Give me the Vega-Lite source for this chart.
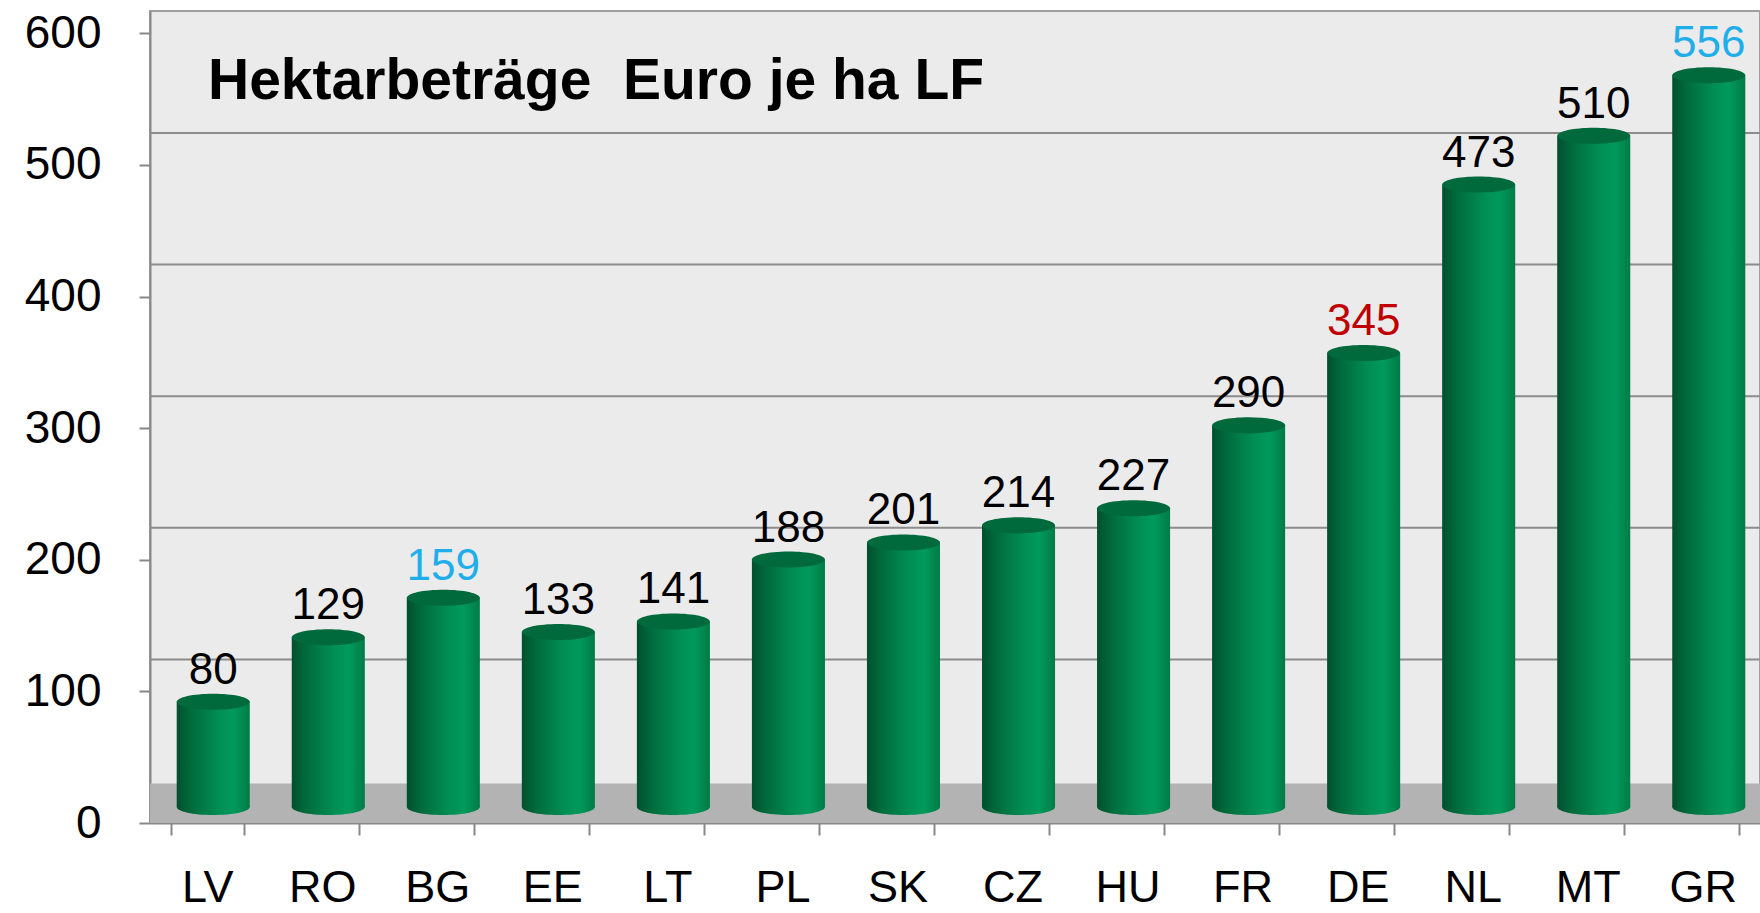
{
  "$schema": "https://vega.github.io/schema/vega-lite/v6.json",
  "width": 1610,
  "height": 812,
  "autosize": {"type": "none"},
  "padding": {"left": 150, "top": 11, "right": 0, "bottom": 90},
  "background": "#FFFFFF",
  "config": {
    "view": {"fill": "#EBEBEB", "stroke": "#A0A0A0", "strokeWidth": 2},
    "font": "Liberation Sans"
  },
  "title": {
    "text": "Hektarbeträge\u00a0 Euro je ha LF",
    "anchor": "start",
    "frame": "group",
    "orient": "top",
    "offset": -146,
    "dx": 58,
    "baseline": "alphabetic",
    "fontSize": 57,
    "font": "Liberation Sans",
    "fontWeight": "bold",
    "color": "#000000"
  },
  "data": {
    "values": [
      {"land": "LV", "wert": 80},
      {"land": "RO", "wert": 129},
      {"land": "BG", "wert": 159},
      {"land": "EE", "wert": 133},
      {"land": "LT", "wert": 141},
      {"land": "PL", "wert": 188},
      {"land": "SK", "wert": 201},
      {"land": "CZ", "wert": 214},
      {"land": "HU", "wert": 227},
      {"land": "FR", "wert": 290},
      {"land": "DE", "wert": 345},
      {"land": "NL", "wert": 473},
      {"land": "MT", "wert": 510},
      {"land": "GR", "wert": 556}
    ]
  },
  "encoding": {
    "x": {
      "field": "land",
      "type": "nominal",
      "sort": null,
      "scale": {"paddingInner": 0.365, "paddingOuter": 0.18},
      "axis": {
        "title": null,
        "labelAngle": 0,
        "labelFontSize": 45,
        "labelColor": "#000000",
        "labelFont": "Liberation Sans",
        "labelPadding": 30,
        "tickSize": 12,
        "tickBand": "extent",
        "tickColor": "#888888",
        "tickWidth": 2,
        "domainColor": "#888888",
        "domainWidth": 2,
        "grid": false
      }
    }
  },
  "layer": [
    {
      "data": {"values": [{}]},
      "mark": {"type": "rect", "color": "#B3B3B3"},
      "encoding": {
        "x": null,
        "y": {"datum": 0, "type": "quantitative"},
        "y2": {"datum": 30}
      }
    },
    {
      "data": {"values": [{"g": 100}, {"g": 200}, {"g": 300}, {"g": 400}, {"g": 500}]},
      "mark": {"type": "rule", "color": "#8C8C8C", "strokeWidth": 2, "yOffset": -32},
      "encoding": {
        "x": null,
        "y": {"field": "g", "type": "quantitative"}
      }
    },
    {
      "mark": {
        "type": "bar",
        "xOffset": 6,
        "yOffset": -16,
        "color": {
          "gradient": "linear",
          "x1": 0, "y1": 0, "x2": 1, "y2": 0,
          "stops": [
            {"offset": 0, "color": "#00502D"},
            {"offset": 0.2, "color": "#006B3C"},
            {"offset": 0.55, "color": "#008C53"},
            {"offset": 0.78, "color": "#009A5C"},
            {"offset": 1, "color": "#007B46"}
          ]
        }
      },
      "encoding": {
        "y": {
          "field": "wert",
          "type": "quantitative",
          "scale": {"domain": [0, 617], "nice": false},
          "axis": {
            "title": null,
            "values": [0, 100, 200, 300, 400, 500, 600],
            "labelFontSize": 46,
            "labelColor": "#000000",
            "labelFont": "Liberation Sans",
            "labelPadding": 38,
            "tickSize": 11,
            "tickColor": "#888888",
            "tickWidth": 2,
            "domainColor": "#888888",
            "domainWidth": 2,
            "grid": false
          }
        }
      }
    },
    {
      "mark": {
        "type": "point",
        "filled": true,
        "opacity": 1,
        "strokeWidth": 0,
        "xOffset": 6,
        "yOffset": -16,
        "size": 5329,
        "shape": "M-1,0A1,0.22,0,1,0,1,0A1,0.22,0,1,0,-1,0Z",
        "color": {
          "gradient": "linear",
          "x1": 0, "y1": 0, "x2": 1, "y2": 0,
          "stops": [
            {"offset": 0, "color": "#00502D"},
            {"offset": 0.2, "color": "#006B3C"},
            {"offset": 0.55, "color": "#008C53"},
            {"offset": 0.78, "color": "#009A5C"},
            {"offset": 1, "color": "#007B46"}
          ]
        }
      },
      "encoding": {
        "y": {"datum": 0, "type": "quantitative"}
      }
    },
    {
      "mark": {
        "type": "point",
        "filled": true,
        "opacity": 1,
        "strokeWidth": 0,
        "xOffset": 6,
        "yOffset": -16,
        "size": 5329,
        "shape": "M-1,0A1,0.22,0,1,0,1,0A1,0.22,0,1,0,-1,0Z",
        "color": "#006A3C"
      },
      "encoding": {
        "y": {"field": "wert", "type": "quantitative"}
      }
    },
    {
      "mark": {
        "type": "text",
        "xOffset": 6,
        "yOffset": -34,
        "baseline": "alphabetic",
        "align": "center",
        "fontSize": 44,
        "font": "Liberation Sans"
      },
      "encoding": {
        "y": {"field": "wert", "type": "quantitative"},
        "text": {"field": "wert", "type": "quantitative"},
        "color": {
          "condition": [
            {"test": "datum.land === 'BG' || datum.land === 'GR'", "value": "#1FAEEA"},
            {"test": "datum.land === 'DE'", "value": "#C00000"}
          ],
          "value": "#000000"
        }
      }
    }
  ]
}
